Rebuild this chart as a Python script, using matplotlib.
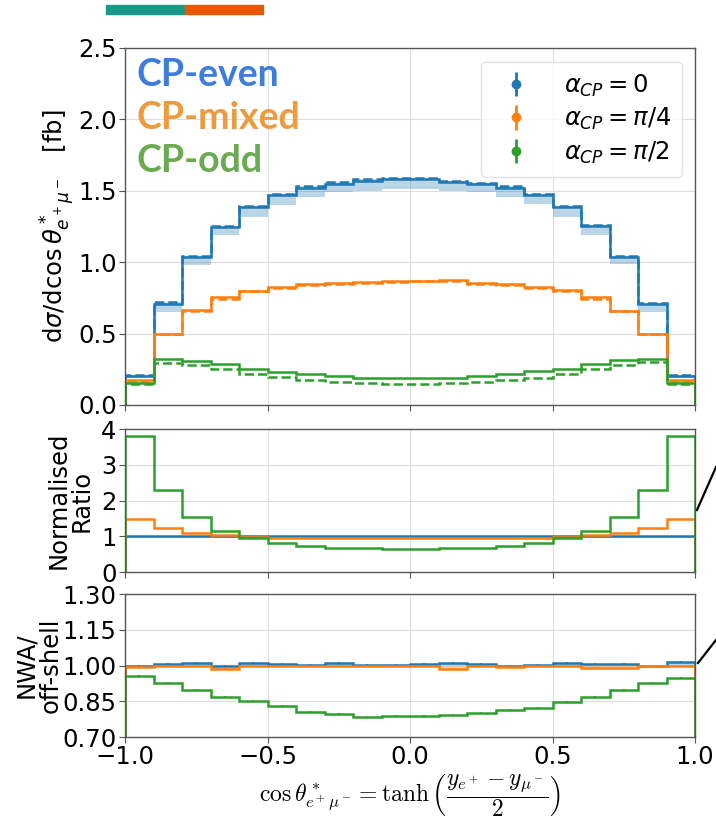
import numpy as np
import matplotlib
matplotlib.use('Agg')
import matplotlib.pyplot as plt
from matplotlib.patches import Rectangle
from matplotlib.lines import Line2D

plt.rcParams['font.family'] = ['DejaVu Sans']
plt.rcParams['mathtext.fontset'] = 'dejavusans'

# ---------------- data ----------------
bin_edges = [-1.0, -0.9, -0.8, -0.7, -0.6, -0.5, -0.4, -0.3, -0.2, -0.1, 0.0,
             0.1, 0.2, 0.3, 0.4, 0.5, 0.6, 0.7, 0.8, 0.9, 1.0]

even_offshell = [0.20, 0.71, 1.035, 1.245, 1.385, 1.47, 1.52, 1.55, 1.57, 1.58,
                 1.58, 1.56, 1.545, 1.52, 1.47, 1.385, 1.25, 1.035, 0.705, 0.20]
even_nwa = [0.21, 0.72, 1.045, 1.255, 1.395, 1.48, 1.53, 1.56, 1.58, 1.59,
            1.59, 1.57, 1.555, 1.53, 1.48, 1.395, 1.26, 1.045, 0.715, 0.21]
even_band_lo = [0.19, 0.65, 0.98, 1.19, 1.315, 1.40, 1.455, 1.49, 1.50, 1.515,
                1.515, 1.50, 1.49, 1.455, 1.405, 1.315, 1.19, 0.985, 0.65, 0.19]

mixed_offshell = [0.175, 0.50, 0.665, 0.755, 0.80, 0.825, 0.845, 0.853, 0.86, 0.865,
                  0.867, 0.874, 0.853, 0.845, 0.825, 0.805, 0.755, 0.66, 0.50, 0.175]
mixed_nwa = [0.17, 0.50, 0.66, 0.74, 0.795, 0.82, 0.84, 0.85, 0.857, 0.862,
             0.865, 0.868, 0.85, 0.84, 0.82, 0.80, 0.745, 0.655, 0.50, 0.17]

odd_offshell = [0.155, 0.32, 0.31, 0.285, 0.25, 0.23, 0.215, 0.203, 0.19, 0.19,
                0.19, 0.19, 0.20, 0.215, 0.235, 0.255, 0.285, 0.315, 0.32, 0.155]
odd_nwa = [0.15, 0.295, 0.28, 0.25, 0.217, 0.195, 0.175, 0.16, 0.153, 0.15,
           0.15, 0.152, 0.16, 0.175, 0.19, 0.215, 0.25, 0.28, 0.30, 0.15]

ratio_even = [1.0] * 20
ratio_even_lo = [0.96] * 20
ratio_mixed = [1.48, 1.22, 1.08, 1.03, 0.98, 0.96, 0.95, 0.95, 0.95, 0.95,
               0.95, 0.95, 0.95, 0.95, 0.96, 0.98, 1.03, 1.08, 1.22, 1.48]
ratio_odd = [3.80, 2.29, 1.53, 1.15, 0.95, 0.81, 0.73, 0.67, 0.66, 0.64,
             0.64, 0.66, 0.68, 0.74, 0.82, 0.96, 1.16, 1.53, 2.29, 3.80]

nwa_even = [1.0, 1.005, 1.01, 1.0, 1.01, 1.007, 1.003, 1.01, 1.003, 1.003,
            1.005, 1.01, 1.005, 0.997, 1.003, 1.01, 1.005, 1.005, 1.0, 1.016]
nwa_mixed = [0.994, 1.0, 1.0, 0.984, 0.998, 0.998, 0.998, 0.998, 0.998, 0.998,
             0.998, 0.984, 0.998, 0.995, 0.998, 0.998, 0.991, 0.991, 0.997, 0.996]
nwa_odd = [0.957, 0.927, 0.897, 0.868, 0.852, 0.830, 0.806, 0.797, 0.785, 0.788,
           0.788, 0.792, 0.80, 0.813, 0.823, 0.848, 0.868, 0.897, 0.927, 0.947]

legend_labels = [r'$\alpha_{CP} = 0$', r'$\alpha_{CP} = \pi/4$', r'$\alpha_{CP} = \pi/2$']
class_labels = ['CP-even', 'CP-mixed', 'CP-odd']
class_colors = ['#3d7ddb', '#ee9a3e', '#6aaa50']
line_colors = ['#1f77b4', '#ff7f0e', '#2ca02c']

# ---------------- figure ----------------
fig = plt.figure(figsize=(7.16, 8.27), dpi=100)
ax1 = fig.add_axes([0.1746, 0.5103, 0.7961, 0.4317])
ax2 = fig.add_axes([0.1746, 0.3083, 0.7961, 0.1729])
ax3 = fig.add_axes([0.1746, 0.1088, 0.7961, 0.1729])

edges = np.array(bin_edges)
centers = 0.5 * (edges[:-1] + edges[1:])
LW = 1.8
TS = 17.5
LS = 17.5

for ax in (ax1, ax2, ax3):
    ax.set_xlim(-1, 1)
    ax.grid(True, color='#dddddd', lw=0.8)
    ax.set_axisbelow(True)
    for s in ax.spines.values():
        s.set_color('#555555')
        s.set_linewidth(1.0)
    ax.tick_params(labelsize=TS, color='#555555', length=4, pad=2)
    ax.set_xticks([-1.0, -0.5, 0.0, 0.5, 1.0])

# top panel
ax1.stairs(even_nwa, edges, baseline=np.array(even_band_lo), fill=True,
           color=line_colors[0], alpha=0.3, lw=0)
ax1.stairs(even_offshell, edges, baseline=0, color=line_colors[0], lw=LW)
ax1.stairs(even_nwa, edges, baseline=0, color=line_colors[0], lw=LW, ls='--')
ax1.stairs(mixed_offshell, edges, baseline=0, color=line_colors[1], lw=LW)
ax1.stairs(mixed_nwa, edges, baseline=0, color=line_colors[1], lw=LW, ls='--')
ax1.stairs(odd_offshell, edges, baseline=0, color=line_colors[2], lw=LW)
ax1.stairs(odd_nwa, edges, baseline=0, color=line_colors[2], lw=LW, ls='--')
ax1.set_ylim(0, 2.5)
ax1.set_yticks([0.0, 0.5, 1.0, 1.5, 2.0, 2.5])
ax1.tick_params(labelbottom=False)
ax1.set_ylabel(r'd$\sigma$/dcos$\,\theta^*_{e^+\mu^-}$   [fb]', fontsize=LS)
ax1.yaxis.set_label_coords(-0.085, 0.5)

handles = []
for c in line_colors:
    h = ax1.errorbar([np.nan], [np.nan], yerr=[0.1], fmt='o', color=c, ms=6, lw=2)
    handles.append(h)
ax1.legend(handles, legend_labels, loc='upper right', bbox_to_anchor=(0.977, 0.962),
           borderaxespad=0, fontsize=LS, framealpha=0.8, edgecolor='#dddddd',
           handletextpad=0.95, labelspacing=0.3, borderpad=0.45)

ys = [0.924, 0.804, 0.683]
for lab, col, y in zip(class_labels, class_colors, ys):
    ax1.text(0.021, y, lab, transform=ax1.transAxes, color=col, fontsize=27,
             fontweight='bold', va='center', ha='left', family=['Lato', 'DejaVu Sans'])

# ratio panel
ax2.stairs(ratio_even, edges, baseline=np.array(ratio_even_lo), fill=True,
           color=line_colors[0], alpha=0.3, lw=0)
ax2.stairs(ratio_even, edges, baseline=0, color=line_colors[0], lw=LW)
ax2.stairs(ratio_mixed, edges, baseline=0, color=line_colors[1], lw=LW)
ax2.stairs(ratio_odd, edges, baseline=0, color=line_colors[2], lw=LW)
ax2.set_ylim(0, 4)
ax2.set_yticks([0, 1, 2, 3, 4])
ax2.tick_params(labelbottom=False)
ax2.set_ylabel('Normalised\nRatio', fontsize=LS, linespacing=0.95)
ax2.yaxis.set_label_coords(-0.055, 0.5)

# NWA / off-shell panel
ones = np.ones(len(nwa_even))
ax3.stairs(nwa_even, edges, baseline=ones, fill=True, color=line_colors[0], alpha=0.3, lw=0)
ax3.stairs(nwa_mixed, edges, baseline=ones, fill=True, color=line_colors[1], alpha=0.3, lw=0)
ax3.stairs(nwa_even, edges, baseline=0, color=line_colors[0], lw=LW)
ax3.stairs(nwa_mixed, edges, baseline=0, color=line_colors[1], lw=LW)
ax3.stairs(nwa_odd, edges, baseline=0, color=line_colors[2], lw=LW)
for vals, c in zip((nwa_even, nwa_mixed, nwa_odd), line_colors):
    ax3.errorbar(centers, vals, yerr=0.004, fmt='none', ecolor=c, elinewidth=1.2)
ax3.set_ylim(0.70, 1.30)
ax3.set_yticks([0.70, 0.85, 1.00, 1.15, 1.30])
ax3.set_ylabel('NWA/\noff-shell', fontsize=LS, linespacing=1.0)
ax3.yaxis.set_label_coords(-0.11, 0.5)
ax3.set_xlabel(r'$\cos\theta^*_{e^+\mu^-} = \tanh\left(\dfrac{y_{e^+}-y_{\mu^-}}{2}\right)$',
               math_fontfamily='cm', fontsize=17, labelpad=2)

# decorations
W, H = 716, 827
fig.patches.append(Rectangle((106 / W, 1 - 14 / H), 79 / W, 9 / H, transform=fig.transFigure,
                             color='#1a9988', zorder=5))
fig.patches.append(Rectangle((185 / W, 1 - 14 / H), 78 / W, 9 / H, transform=fig.transFigure,
                             color='#eb5600', zorder=5))
fig.lines.append(Line2D([697 / W, 716 / W], [1 - 510 / H, 1 - 467 / H], transform=fig.transFigure,
                        color='black', lw=1.6))
fig.lines.append(Line2D([698 / W, 716 / W], [1 - 663 / H, 1 - 640 / H], transform=fig.transFigure,
                        color='black', lw=1.6))

fig.savefig('out.png', dpi=100)
